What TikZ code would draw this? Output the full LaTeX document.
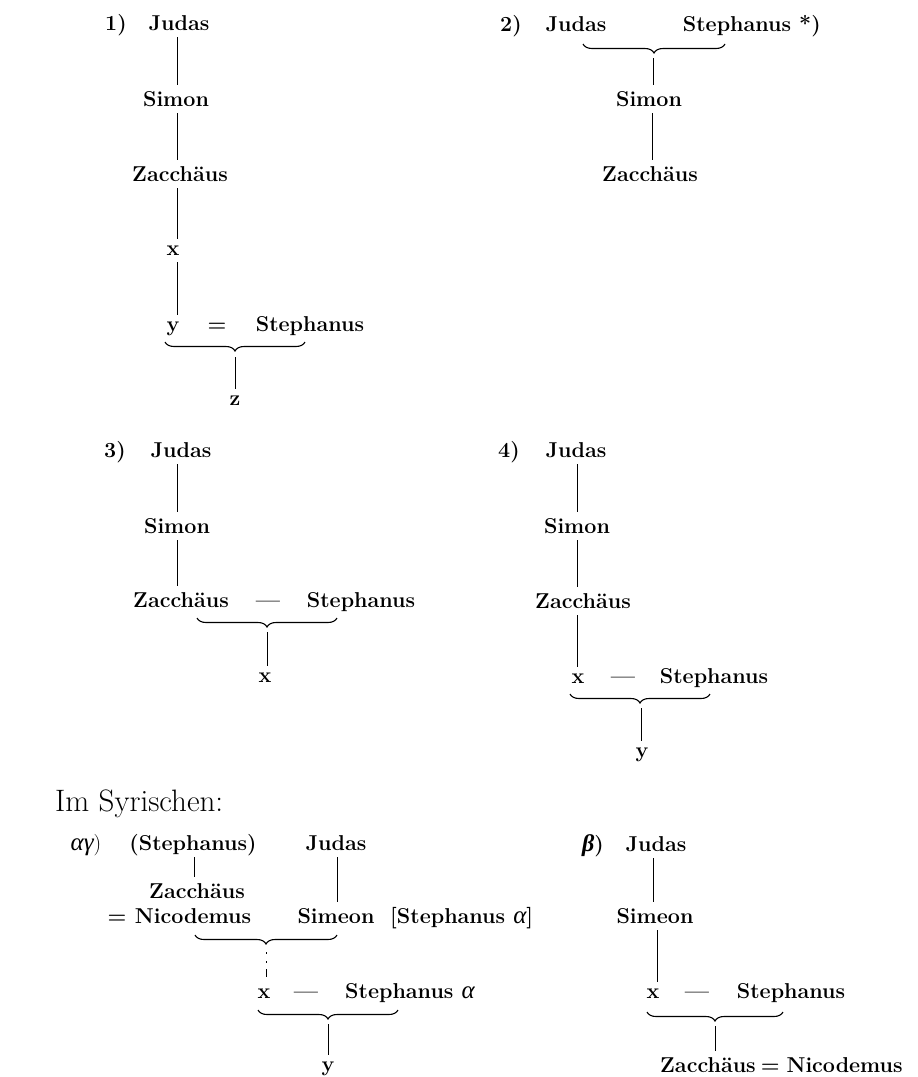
\documentclass[tikz,border=0pt]{standalone}
\usepackage{fontspec}
\newfontfamily\grk{Liberation Serif}
\usetikzlibrary{decorations.pathreplacing}
\newcommand\nmfont{\fontsize{21.5}{24}\selectfont\bfseries}
\newcommand\hdfont{\fontsize{31}{34}\selectfont}
\newcommand\ga[1]{{\grk\itshape\mdseries\fontsize{25}{26}\selectfont #1}}
\tikzset{
  nm/.style={font=\nmfont, anchor=base, inner sep=0pt, text height=16pt, text depth=2pt},
  sm/.style={nm, text height=11pt},
  nmw/.style={nm, anchor=base west},
  lnk/.style={line width=0.6pt, shorten <=5pt, shorten >=5pt},
  brc/.style={decorate, decoration={brace, mirror, amplitude=9pt}, line width=1.1pt},
}
\begin{document}
\begin{tikzpicture}[x=1pt, y=-1pt]
\path[use as bounding box] (0,0) rectangle (918,1077);

% ---------- 1)
\node[nm] (n1) at (116,30) {1)};
\node[nm] (j1) at (179,30) {Judas};
\node[nm] (s1) at (176,106) {Simon};
\node[nm] (z1) at (180,181) {Zacchäus};
\node[sm] (x1) at (173,255) {x};
\node[sm] (y1) at (173,331) {y};
\node[nm] (e1) at (217,331) {=};
\node[nm] (st1) at (310,331) {Stephanus};
\node[sm] (zz1) at (235,405) {z};
\coordinate (L1) at (177,0);
\draw[lnk] (j1.south -| L1) -- (s1.north -| L1);
\draw[lnk] (s1.south -| L1) -- (z1.north -| L1);
\draw[lnk] (z1.south -| L1) -- (x1.north -| L1);
\draw[lnk] (x1.south -| L1) -- (y1.north -| L1);
\draw[brc] (165,342) -- (305,342);
\coordinate (b1) at (235,352);
\draw[lnk] (b1) -- (zz1.north -| b1);

% ---------- 2)
\node[nm] (n2) at (511,31) {2)};
\node[nm] (j2) at (576,31) {Judas};
\node[nm] (st2) at (737,31) {Stephanus};
\node[nmw] (fn2) at (799,31) {*)};
\node[nm] (s2) at (649,106) {Simon};
\node[nm] (z2) at (650,181) {Zacchäus};
\draw[brc] (583,44) -- (725,44);
\coordinate (b2) at (653,53);
\coordinate (L2) at (652,0);
\draw[lnk] (b2) -- (s2.north -| b2);
\draw[lnk] (s2.south -| L2) -- (z2.north -| L2);

% ---------- 3)
\node[nm] (n3) at (115,457) {3)};
\node[nm] (j3) at (181,457) {Judas};
\node[nm] (s3) at (177,533) {Simon};
\node[nm] (z3) at (181,607) {Zacchäus};
\node[nm] (d3) at (268,607) {---};
\node[nm] (st3) at (361,607) {Stephanus};
\node[sm] (x3) at (265,682) {x};
\coordinate (L3) at (177,0);
\draw[lnk] (j3.south -| L3) -- (s3.north -| L3);
\draw[lnk] (s3.south -| L3) -- (z3.north -| L3);
\draw[brc] (197,618) -- (337,618);
\coordinate (b3) at (267,627);
\draw[lnk] (b3) -- (x3.north -| b3);

% ---------- 4)
\node[nm] (n4) at (509,457) {4)};
\node[nm] (j4) at (576,457) {Judas};
\node[nm] (s4) at (577,533) {Simon};
\node[nm] (z4) at (583,608) {Zacchäus};
\node[sm] (x4) at (578,683) {x};
\node[nm] (d4) at (623,683) {---};
\node[nm] (st4) at (714,683) {Stephanus};
\node[sm] (y4) at (642,757) {y};
\coordinate (L4) at (577,0);
\draw[lnk] (j4.south -| L4) -- (s4.north -| L4);
\draw[lnk] (s4.south -| L4) -- (z4.north -| L4);
\draw[lnk] (z4.south -| L4) -- (x4.north -| L4);
\draw[brc] (570,694) -- (710,694);
\coordinate (b4) at (641,703);
\draw[lnk] (b4) -- (y4.north -| b4);

% ---------- Im Syrischen
\node[anchor=base west, inner sep=0pt, font=\hdfont] (syr) at (55,811) {Im Syrischen:};

% alpha gamma
\node[nm, font=\fontsize{21.5}{24}\selectfont] (ag) at (86,850) {\ga{αγ})};
\node[nm] (sp) at (193,850) {(Stephanus)};
\node[nm] (js) at (336,850) {Judas};
\node[nm] (zs) at (197,898) {Zacchäus};
\node[nm] (eqs) at (117,923) {=};
\node[nm] (nic) at (193,923) {Nicodemus};
\node[nm] (sim) at (336,923) {Simeon};
\node[nmw] (stb) at (390,923) {[Stephanus \ga{α}]};
\coordinate (L5) at (194,0);
\coordinate (L6) at (337,0);
\draw[lnk] (sp.south -| L5) -- (zs.north -| L5);
\draw[lnk] (js.south -| L6) -- (sim.north -| L6);
\draw[brc] (195,935) -- (337,935);
\coordinate (b5) at (266,944);
\node[sm] (xs) at (264,998) {x};
\node[nm] (ds) at (306,998) {---};
\node[nmw] (sta) at (345,998) {Stephanus \ga{α}};
\draw[lnk, shorten <=8pt, dash pattern=on 1.5pt off 7.5pt on 1.5pt off 6.5pt on 8pt off 30pt] (b5) -- (xs.north -| b5);
\draw[brc] (258,1010) -- (398,1010);
\coordinate (b6) at (328,1019);
\node[sm] (ys) at (328,1071) {y};
\draw[lnk] (b6) -- (ys.north -| b6);

% beta
\node[nm] (nb) at (593,851) {{\grk\bfseries\itshape\fontsize{24}{26}\selectfont β})};
\node[nm] (jb) at (656,851) {Judas};
\node[nm] (simb) at (655,923) {Simeon};
\node[sm] (xb) at (653,998) {x};
\node[nm] (db) at (697,998) {---};
\node[nm] (stb2) at (791,998) {Stephanus};
\node[nmw] (zn) at (660,1072) {Zacchäus\kern5pt=\kern7pt Nicodemus};
\coordinate (L7) at (653,0);
\coordinate (L8) at (657,0);
\draw[lnk] (jb.south -| L7) -- (simb.north -| L7);
\draw[lnk] (simb.south -| L8) -- (xb.north -| L8);
\draw[brc] (647,1012) -- (783,1012);
\coordinate (b7) at (715,1021);
\draw[lnk] (b7) -- (zn.north -| b7);
\end{tikzpicture}
\end{document}
